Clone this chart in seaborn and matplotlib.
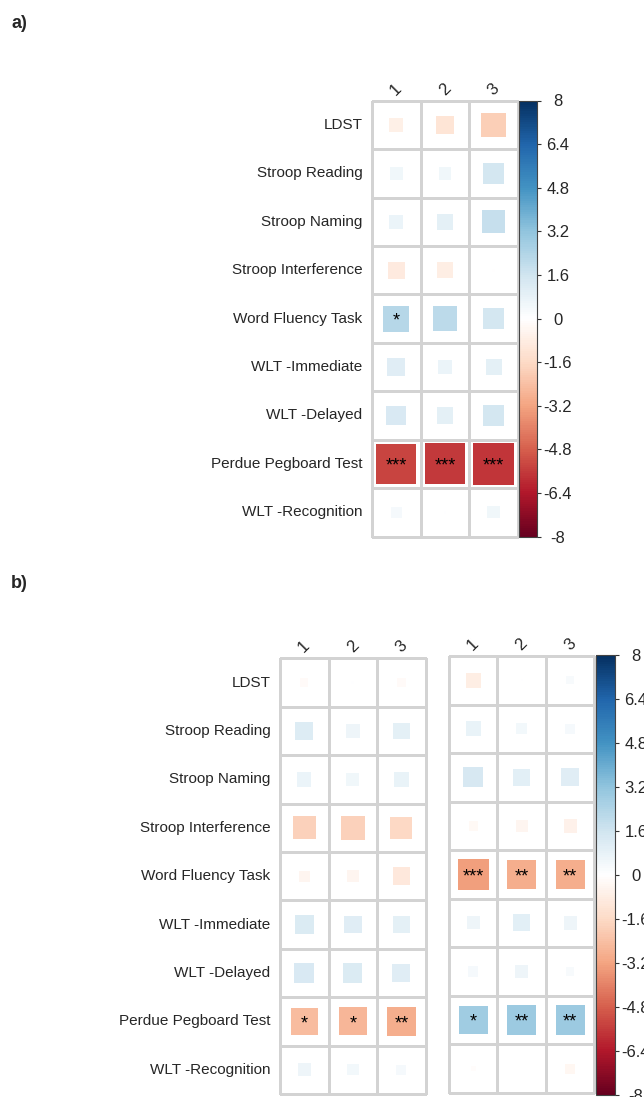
import numpy as np
import pandas as pd
import matplotlib
matplotlib.use("Agg")
import matplotlib.pyplot as plt
from matplotlib.colors import LinearSegmentedColormap, ListedColormap, Normalize
from matplotlib.cm import ScalarMappable
import seaborn as sns

# ---------------- data ----------------
rows = ["LDST", "Stroop Reading", "Stroop Naming", "Stroop Interference",
        "Word Fluency Task", "WLT -Immediate", "WLT -Delayed",
        "Perdue Pegboard Test", "WLT -Recognition"]
cols = ["1", "2", "3"]

vals_a = [[-0.67, -1.19, -2.00],
          [0.52, 0.55, 1.46],
          [0.67, 0.88, 1.86],
          [-0.95, -0.80, -0.03],
          [2.30, 2.08, 1.50],
          [1.10, 0.67, 0.88],
          [1.32, 0.95, 1.50],
          [-5.40, -5.66, -5.76],
          [0.37, 0.02, 0.52]]
stars_a = [["", "", ""], ["", "", ""], ["", "", ""], ["", "", ""],
           ["*", "", ""], ["", "", ""], ["", "", ""],
           ["***", "***", "***"], ["", "", ""]]

vals_b1 = [[-0.24, 0.03, -0.24],
           [1.15, 0.61, 0.91],
           [0.70, 0.55, 0.74],
           [-1.86, -1.92, -1.66],
           [-0.41, -0.44, -1.03],
           [1.24, 1.07, 0.95],
           [1.32, 1.24, 1.11],
           [-2.56, -2.68, -2.95],
           [0.58, 0.44, 0.34]]
stars_b1 = [["", "", ""], ["", "", ""], ["", "", ""], ["", "", ""],
            ["", "", ""], ["", "", ""], ["", "", ""],
            ["*", "*", "**"], ["", "", ""]]

vals_b2 = [[-0.77, 0.02, 0.24],
           [0.77, 0.41, 0.34],
           [1.37, 0.99, 1.11],
           [-0.30, -0.47, -0.61],
           [-3.29, -2.95, -2.95],
           [0.58, 0.99, 0.61],
           [0.37, 0.58, 0.24],
           [2.81, 2.95, 2.95],
           [-0.10, 0.00, -0.34]]
stars_b2 = [["", "", ""], ["", "", ""], ["", "", ""], ["", "", ""],
            ["***", "**", "**"], ["", "", ""], ["", "", ""],
            ["*", "**", "**"], ["", "", ""]]

cbar_ticks = [8, 6.4, 4.8, 3.2, 1.6, 0, -1.6, -3.2, -4.8, -6.4, -8]
cbar_labels = ["8", "6.4", "4.8", "3.2", "1.6", "0", "-1.6", "-3.2", "-4.8", "-6.4", "-8"]
lim = 8.0

# ---------------- style ----------------
sns.set_style("white")
plt.rcParams["font.family"] = ["Liberation Sans", "DejaVu Sans"]

cmap = LinearSegmentedColormap.from_list(
    "corrRdBu", ["#67001F", "#B2182B", "#D6604D", "#F4A582", "#FDDBC7", "#FFFFFF",
                 "#D1E5F0", "#92C5DE", "#4393C3", "#2166AC", "#053061"], N=200)
norm = Normalize(-lim, lim)

W, H = 644, 1097
fig = plt.figure(figsize=(W / 100, H / 100), dpi=100)


def fr(x0, y0, x1, y1):
    return [x0 / W, 1 - y1 / H, (x1 - x0) / W, (y1 - y0) / H]


GRID = "#d3d3d3"
LBL = 11


def panel(ax, vals, stars, show_rows):
    nr, nc = len(rows), len(cols)
    sns.heatmap(np.zeros((nr, nc)), cmap=ListedColormap(["white"]), cbar=False,
                linewidths=0.8, linecolor=GRID, ax=ax,
                xticklabels=cols, yticklabels=rows if show_rows else False)
    ax.collections[0].set_clip_on(False)
    df = pd.DataFrame([
        {"x": c + 0.5, "y": r + 0.5, "value": vals[r][c], "mag": abs(vals[r][c])}
        for r in range(nr) for c in range(nc)])
    bb = ax.get_position()
    cell_pt = bb.width * W / nc * 72 / 100
    sns.scatterplot(data=df, x="x", y="y", hue="value", palette=cmap, hue_norm=(-lim, lim),
                    size="mag", sizes=(0, cell_pt ** 2), size_norm=(0, lim),
                    marker="s", linewidth=0, legend=False, ax=ax, zorder=3)
    for r in range(nr):
        for c in range(nc):
            if stars[r][c]:
                ax.text(c + 0.5, r + 0.64, stars[r][c], ha="center", va="baseline",
                        fontsize=13, color="black", zorder=4)
    ax.set_xlim(0, nc)
    ax.set_ylim(nr, 0)
    ax.set_xlabel("")
    ax.set_ylabel("")
    ax.xaxis.tick_top()
    ax.set_xticks(np.arange(nc) + 0.5)
    ax.set_xticklabels(cols, rotation=45, ha="center", va="bottom", fontsize=12)
    ax.tick_params(axis="x", length=0, pad=2)
    if show_rows:
        ax.set_yticks(np.arange(nr) + 0.5)
        ax.set_yticklabels(rows, rotation=0, fontsize=LBL)
        ax.tick_params(axis="y", length=0, pad=7)
    for s in ax.spines.values():
        s.set_visible(False)


def colorbar(cax):
    sm = ScalarMappable(norm=norm, cmap=cmap)
    cb = fig.colorbar(sm, cax=cax)
    cb.set_ticks(cbar_ticks)
    cb.set_ticklabels(cbar_labels)
    cb.outline.set_edgecolor("#444444")
    cb.outline.set_linewidth(0.8)
    cax.tick_params(axis="y", length=3, width=0.8, color="#333333", pad=12, labelsize=12)
    for t in cax.get_yticklabels():
        t.set_horizontalalignment("center")


# panel a
ax_a = fig.add_axes(fr(372, 100.7, 518, 536.5))
panel(ax_a, vals_a, stars_a, True)
cax_a = fig.add_axes(fr(519, 100.5, 537, 536.7))
colorbar(cax_a)

# panel b
ax_b1 = fig.add_axes(fr(280, 658.3, 425.7, 1094))
panel(ax_b1, vals_b1, stars_b1, True)
ax_b2 = fig.add_axes(fr(449, 656, 594.5, 1092.8))
panel(ax_b2, vals_b2, stars_b2, False)
cax_b = fig.add_axes(fr(596, 655, 615, 1095))
colorbar(cax_b)

fig.text(11 / W, 1 - 23 / H, "a)", fontsize=13, fontweight="bold", ha="left", va="center")
fig.text(11 / W, 1 - 584 / H, "b)", fontsize=13, fontweight="bold", ha="left", va="center")

fig.savefig("out.png", dpi=100)
